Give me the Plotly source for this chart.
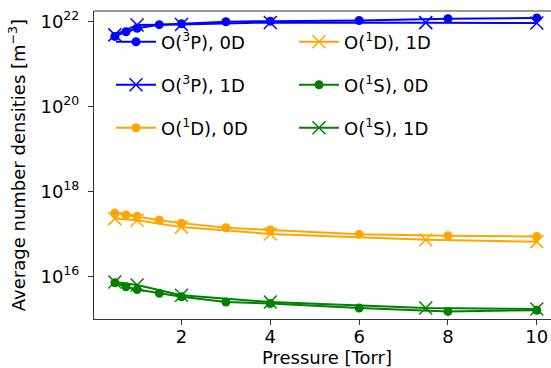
import plotly.graph_objects as go

# ---- data ----
pressure_0d = [0.5, 0.75, 1, 1.5, 2, 3, 4, 6, 8, 10]
pressure_1d = [0.5, 1, 2, 4, 7.5, 10]

o3p_0d = [4.5e21, 5.8e21, 7.0e21, 8.5e21, 8.9e21, 1.0e22, 1.03e22, 1.07e22, 1.17e22, 1.23e22]
o3p_1d = [4.9e21, 8.4e21, 8.6e21, 9.6e21, 9.5e21, 9.3e21]
o1d_0d = [3.1e17, 2.8e17, 2.6e17, 2.1e17, 1.8e17, 1.4e17, 1.24e17, 9.8e16, 9.1e16, 8.7e16]
o1d_1d = [2.3e17, 2.1e17, 1.45e17, 1.0e17, 7.3e16, 6.6e16]
o1s_0d = [7.1e15, 5.7e15, 4.9e15, 4.0e15, 3.3e15, 2.5e15, 2.3e15, 1.8e15, 1.5e15, 1.6e15]
o1s_1d = [7.4e15, 6.3e15, 3.6e15, 2.5e15, 1.8e15, 1.7e15]

series_names = ["O(<sup>3</sup>P), 0D", "O(<sup>3</sup>P), 1D",
                "O(<sup>1</sup>D), 0D", "O(<sup>1</sup>D), 1D",
                "O(<sup>1</sup>S), 0D", "O(<sup>1</sup>S), 1D"]
x_ticks = [2, 4, 6, 8, 10]
y_tickvals = [1e16, 1e18, 1e20, 1e22]
y_ticktext = ["10<sup>16</sup>", "10<sup>18</sup>", "10<sup>20</sup>", "10<sup>22</sup>"]

FONT = "DejaVu Sans"
FS = 18

# the reference's axes run past the right edge of the 551 px picture,
# so the figure is a little wider than the window and the overflow is hidden
W, H = 562, 368
ML, MR, MT, MB = 94, 2, 11, 49
plot_w = W - ML - MR
plot_h = H - MT - MB
x_lo = 0.03
x_hi = x_lo + (10.32 - x_lo) * plot_w / (551 - ML)

series = [
    (pressure_0d, o3p_0d, "blue", "0D"),
    (pressure_1d, o3p_1d, "blue", "1D"),
    (pressure_0d, o1d_0d, "orange", "0D"),
    (pressure_1d, o1d_1d, "orange", "1D"),
    (pressure_0d, o1s_0d, "green", "0D"),
    (pressure_1d, o1s_1d, "green", "1D"),
]

# legend placement (column-major, 2 columns x 3 rows), in pixel coords of the page
col_px = [111, 294]
row_py = [42, 85, 128]

fig = go.Figure()
layout_legends = {}
for i, ((xs, ys, col, kind), name) in enumerate(zip(series, series_names)):
    lname = "legend" if i == 0 else f"legend{i+1}"
    if kind == "0D":
        marker = dict(symbol="circle", size=9, color=col)
    else:
        marker = dict(symbol="x-thin", size=13, color=col, line=dict(color=col, width=1.5))
    fig.add_trace(go.Scatter(
        x=xs, y=ys, mode="lines+markers", name=name,
        line=dict(color=col, width=2), marker=marker,
        legend=lname, showlegend=True,
    ))
    c, r = i // 3, i % 3
    layout_legends[lname] = dict(
        x=(col_px[c] - ML) / plot_w,
        y=1 - (row_py[r] - MT) / plot_h,
        xanchor="left", yanchor="middle",
        bgcolor="rgba(0,0,0,0)", borderwidth=0,
        font=dict(family=FONT, size=FS, color="black"),
        itemwidth=40,
    )

fig.update_layout(
    width=W, height=H,
    margin=dict(l=ML, r=MR, t=MT, b=MB, autoexpand=False),
    paper_bgcolor="white", plot_bgcolor="white",
    font=dict(family=FONT, size=FS, color="black"),
    shapes=[dict(type="line", xref="paper", yref="paper", x0=0, x1=1, y0=1, y1=1,
                 line=dict(color="#333", width=1), layer="above")],
    **layout_legends,
)

fig.update_xaxes(
    range=[x_lo, x_hi], automargin=False,
    tickvals=x_ticks, ticks="outside", ticklen=5, tickwidth=1, tickcolor="#333",
    showline=True, linecolor="#333", linewidth=1, mirror=False,
    showgrid=False, zeroline=False,
    title=dict(text="Pressure [Torr]", standoff=2, font=dict(size=FS)),
    tickfont=dict(size=FS), ticklabelstandoff=-4,
)
fig.update_yaxes(
    type="log", range=[14.997, 22.252], automargin=False,
    tickvals=y_tickvals, ticktext=y_ticktext,
    ticks="outside", ticklen=5, tickwidth=1, tickcolor="#333",
    showline=True, linecolor="#333", linewidth=1, mirror=False,
    showgrid=False, zeroline=False,
    title=dict(text="Average number densities [m<sup>\u22123</sup>]", standoff=10, font=dict(size=FS)),
    tickfont=dict(size=FS), ticklabelstandoff=5,
)

fig.write_html(
    "out.html",
    config={"displayModeBar": False},
    post_script="document.body.style.margin='0';document.body.style.overflow='hidden';",
)
